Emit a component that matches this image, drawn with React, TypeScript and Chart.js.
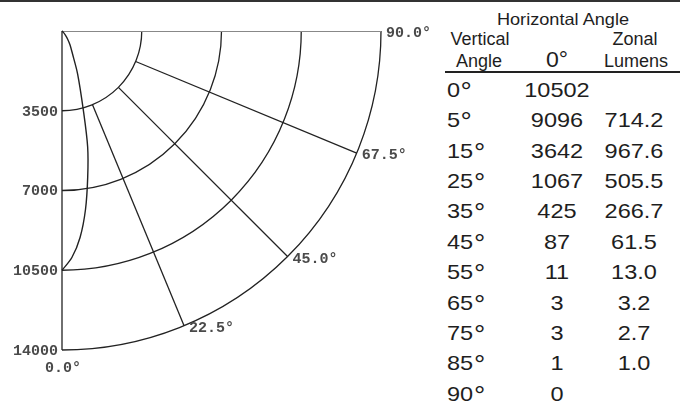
import { useEffect, useRef } from "react";
import { Chart, registerables } from "chart.js";

Chart.register(...registerables);

// ---- data ----
const verticalAngles = [0, 5, 15, 25, 35, 45, 55, 65, 75, 85, 90];
const candela0 = [10502, 9096, 3642, 1067, 425, 87, 11, 3, 3, 1, 0];
const zonalLumens: (number | null)[] = [null, 714.2, 967.6, 505.5, 266.7, 61.5, 13.0, 3.2, 2.7, 1.0, null];

// candela curve as drawn (intermediate angles)
const curveAngles = [0, 2.5, 5, 7.5, 10, 12.5, 15, 20, 25, 30, 35, 40, 45, 55, 65, 75, 85, 90];
const curveCandela = [10502, 9950, 9096, 7900, 6500, 5200, 3642, 2000, 1067, 700, 425, 220, 87, 11, 3, 3, 1, 0];

const ringValues = [3500, 7000, 10500, 14000];
const spokeAngles = [22.5, 45, 67.5];
const angleLabels = [0, 22.5, 45, 67.5, 90];
const maxCandela = 14000;

const rad = (d: number) => (d * Math.PI) / 180;

const polarGrid = {
  id: "polarGrid",
  beforeDatasetsDraw(chart: any) {
    const { ctx, scales } = chart;
    const xs = scales.x;
    const ys = scales.y;
    const cx = xs.getPixelForValue(0);
    const cy = ys.getPixelForValue(0);
    const rp = (v: number) => xs.getPixelForValue(v) - cx;
    const R = rp(maxCandela);
    ctx.save();
    ctx.strokeStyle = "#222";
    ctx.lineWidth = 1.3;
    // rings
    ringValues.forEach((v) => {
      ctx.beginPath();
      ctx.arc(cx, cy, rp(v), 0, Math.PI / 2);
      ctx.stroke();
    });
    // spokes
    spokeAngles.forEach((a) => {
      const r0 = rp(ringValues[0]);
      ctx.beginPath();
      ctx.moveTo(cx + r0 * Math.sin(rad(a)), cy + r0 * Math.cos(rad(a)));
      ctx.lineTo(cx + R * Math.sin(rad(a)), cy + R * Math.cos(rad(a)));
      ctx.stroke();
    });
    // 0 deg axis (left)
    ctx.beginPath();
    ctx.moveTo(cx, cy);
    ctx.lineTo(cx, cy + R);
    ctx.stroke();
    // 90 deg axis (top)
    ctx.strokeStyle = "#888";
    ctx.lineWidth = 1;
    ctx.beginPath();
    ctx.moveTo(cx, cy + 0.5);
    ctx.lineTo(cx + R, cy + 0.5);
    ctx.stroke();

    // labels
    ctx.fillStyle = "#4a4a4a";
    ctx.font = "bold 15px 'Liberation Mono', 'DejaVu Sans Mono', monospace";
    ctx.textBaseline = "middle";
    ctx.textAlign = "right";
    ringValues.forEach((v) => {
      ctx.fillText(String(v), cx - 4, cy + rp(v) + 1);
    });
    angleLabels.forEach((a) => {
      const txt = a.toFixed(1) + "\u00b0";
      const px = cx + R * Math.sin(rad(a));
      const py = cy + R * Math.cos(rad(a));
      if (a === 0) {
        ctx.textAlign = "center";
        ctx.fillText(txt, px + 1, py + 18);
      } else {
        ctx.textAlign = "left";
        ctx.fillText(txt, px + 5, py + 2.5);
      }
    });
    ctx.restore();
  },
};

function Txt(props: { x: number; y: number; size: number; sx: number; center?: boolean; children: any }) {
  const { x, y, size, sx, center, children } = props;
  return (
    <div
      style={{
        position: "absolute",
        left: x,
        top: y - 0.4885 * size,
        fontSize: size,
        lineHeight: size + "px",
        fontFamily: "'Liberation Sans', Arial, sans-serif",
        color: "#1e1e1e",
        whiteSpace: "nowrap",
        transform: center ? `translateX(-50%) scaleX(${sx})` : `scaleX(${sx})`,
        transformOrigin: center ? "center center" : "left center",
      }}
    >
      {children}
    </div>
  );
}

const Deg = () => (
  <span style={{ display: "inline-block", transform: "scale(1.2)", transformOrigin: "left 25%", marginLeft: 0.5 }}>°</span>
);

export default function App() {
  const canvasRef = useRef<HTMLCanvasElement | null>(null);

  useEffect(() => {
    if (!canvasRef.current) return;
    const points = curveAngles.map((a, i) => ({
      x: curveCandela[i] * Math.sin(rad(a)),
      y: -curveCandela[i] * Math.cos(rad(a)),
    }));
    const chart = new Chart(canvasRef.current, {
      type: "scatter",
      data: {
        datasets: [
          {
            data: points,
            showLine: true,
            pointRadius: 0,
            borderColor: "#222",
            borderWidth: 1.4,
            tension: 0.3,
            clip: false as any,
          },
        ],
      },
      options: {
        animation: false,
        responsive: false,
        maintainAspectRatio: false,
        devicePixelRatio: 1,
        events: [],
        layout: { padding: { left: 62, top: 31, right: 59, bottom: 59 } },
        scales: {
          x: { type: "linear", min: 0, max: maxCandela, display: false },
          y: { type: "linear", min: -maxCandela, max: 0, display: false },
        },
        plugins: { legend: { display: false }, tooltip: { enabled: false } },
      },
      plugins: [polarGrid],
    });
    return () => chart.destroy();
  }, []);

  const row0 = 89;
  const rowStep = 30.4;

  return (
    <div style={{ position: "fixed", left: 0, top: 0, width: 680, height: 409, background: "#fff", overflow: "hidden" }}>
      <div style={{ position: "absolute", left: 0, top: 0, width: 680, height: 2, background: "#333" }} />
      <canvas ref={canvasRef} width={440} height={409} style={{ position: "absolute", left: 0, top: 0 }} />
      {/* table header */}
      <Txt x={562.5} y={19.5} size={16.5} sx={1.1} center>Horizontal Angle</Txt>
      <Txt x={480} y={40} size={17.5} sx={1.03} center>Vertical</Txt>
      <Txt x={479} y={61.5} size={17.5} sx={1.03} center>Angle</Txt>
      <Txt x={556.5} y={60} size={22} sx={1.05} center>0°</Txt>
      <Txt x={635} y={40} size={17.5} sx={1.03} center>Zonal</Txt>
      <Txt x={635.5} y={61.5} size={17.5} sx={1.03} center>Lumens</Txt>
      <div style={{ position: "absolute", left: 445, top: 71, width: 235, height: 2, background: "#222" }} />
      {verticalAngles.map((a, i) => {
        const y = row0 + i * rowStep;
        const z = zonalLumens[i];
        return (
          <div key={a}>
            <Txt x={447} y={y} size={21} sx={1.12}>{String(a)}<Deg /></Txt>
            <Txt x={556.5} y={y} size={21} sx={1.12} center>{String(candela0[i])}</Txt>
            {z !== null && (
              <Txt x={634} y={y} size={21} sx={1.12} center>{z.toFixed(1)}</Txt>
            )}
          </div>
        );
      })}
    </div>
  );
}
